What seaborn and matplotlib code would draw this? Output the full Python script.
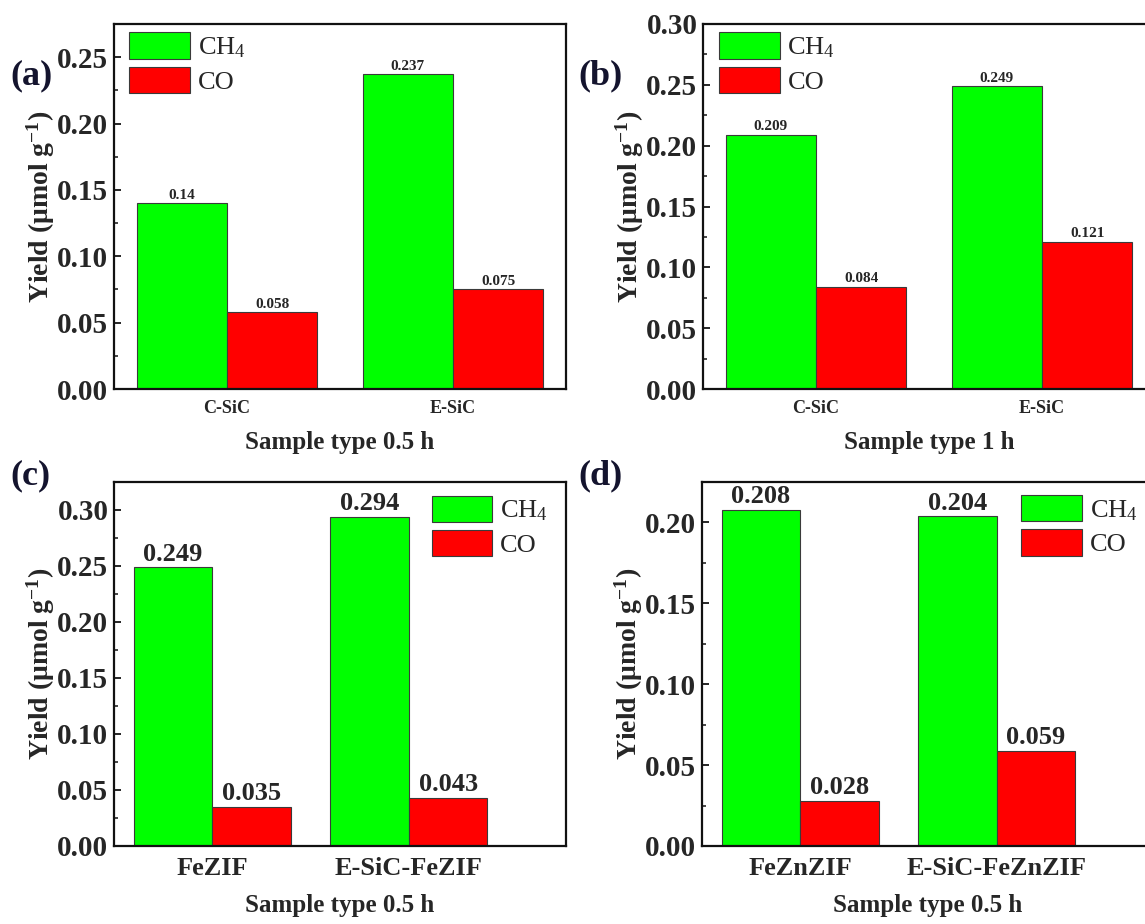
import numpy as np
import pandas as pd
import seaborn as sns
import matplotlib.pyplot as plt
from matplotlib.ticker import AutoMinorLocator, FormatStrFormatter

# --- data ---
gases = ['CH$_4$', 'CO']

groups_a = ['C-SiC', 'E-SiC']
ch4_a = [0.14, 0.237]
co_a = [0.058, 0.075]

groups_b = ['C-SiC', 'E-SiC']
ch4_b = [0.209, 0.249]
co_b = [0.084, 0.121]

groups_c = ['FeZIF', 'E-SiC-FeZIF']
ch4_c = [0.249, 0.294]
co_c = [0.035, 0.043]

groups_d = ['FeZnZIF', 'E-SiC-FeZnZIF']
ch4_d = [0.208, 0.204]
co_d = [0.028, 0.059]

xlabels = ['Sample type 0.5 h', 'Sample type 1 h', 'Sample type 0.5 h', 'Sample type 0.5 h']
panel_tags = ['(a)', '(b)', '(c)', '(d)']

sns.set_style('ticks')
plt.rcParams['font.family'] = ['Liberation Serif', 'DejaVu Serif']
plt.rcParams['mathtext.default'] = 'regular'

W, H = 1145, 924
fig = plt.figure(figsize=(W / 100, H / 100), dpi=100)


def px_rect(l, t, r, b):
    return [l / W, 1 - b / H, (r - l) / W, (b - t) / H]


def make_df(groups, ch4, co):
    rows = []
    for g, v in zip(groups, ch4):
        rows.append({'sample': g, 'gas': gases[0], 'yield': v})
    for g, v in zip(groups, co):
        rows.append({'sample': g, 'gas': gases[1], 'yield': v})
    return pd.DataFrame(rows)


panels = [
    dict(df=make_df(groups_a, ch4_a, co_a), rect=(114, 24, 566, 389), ylim=0.275, yticks=0.25,
         xlim=1.5, small=True, leg=(0.033, 0.977), tag_xy=(10, 76)),
    dict(df=make_df(groups_b, ch4_b, co_b), rect=(703, 24, 1155, 389), ylim=0.30, yticks=0.30,
         xlim=1.5, small=True, leg=(0.035, 0.977), tag_xy=(578, 76)),
    dict(df=make_df(groups_c, ch4_c, co_c), rect=(114, 482, 566, 846), ylim=0.325, yticks=0.30,
         xlim=1.8, small=False, leg=(0.703, 0.962), tag_xy=(10, 476)),
    dict(df=make_df(groups_d, ch4_d, co_d), rect=(702, 482, 1154, 846), ylim=0.225, yticks=0.20,
         xlim=1.8, small=False, leg=(0.706, 0.964), tag_xy=(578, 476)),
]

for i, p in enumerate(panels):
    ax = fig.add_axes(px_rect(*p['rect']))
    df = p['df']
    sns.barplot(data=df, x='sample', y='yield', hue='gas', palette=['#00FF00', '#FF0000'],
                saturation=1, errorbar=None, edgecolor='#3a3a3a', linewidth=0.8, ax=ax)

    val_size = 11 if p['small'] else 19
    for cont, gas in zip(ax.containers, gases):
        vals = df.loc[df['gas'] == gas, 'yield'].tolist()
        ax.bar_label(cont, labels=[str(v) for v in vals], padding=1,
                     fontsize=val_size, fontweight='bold')

    ax.set_xlim(-0.5, p['xlim'])
    ax.set_ylim(0, p['ylim'])
    ax.set_yticks(np.arange(0, p['yticks'] + 1e-9, 0.05))
    ax.yaxis.set_major_formatter(FormatStrFormatter('%.2f'))
    ax.yaxis.set_minor_locator(AutoMinorLocator(2))
    ax.tick_params(axis='y', which='major', direction='in', length=5, width=1.4,
                   labelsize=21, pad=4)
    ax.tick_params(axis='y', which='minor', direction='in', length=3, width=1.2)
    ax.tick_params(axis='x', length=0, labelsize=13 if p['small'] else 19, pad=8)
    for lab in ax.get_xticklabels() + ax.get_yticklabels():
        lab.set_fontweight('bold')
    for sp in ax.spines.values():
        sp.set_visible(True)
        sp.set_linewidth(1.6)
        sp.set_color('#111111')

    ax.set_ylabel('Yield (μmol g$^{-1}$)', fontsize=20, fontweight='bold', labelpad=0)
    ax.set_xlabel(xlabels[i], fontsize=18, fontweight='bold', labelpad=10)

    handles, labels = ax.get_legend_handles_labels()
    ax.legend(handles, labels, loc='upper left', bbox_to_anchor=p['leg'], frameon=False,
              fontsize=19, borderpad=0, handlelength=2.3, handleheight=1.15,
              handletextpad=0.3, labelspacing=0.25, borderaxespad=0)

    tx, ty = p['tag_xy']
    fig.text(tx / W, 1 - ty / H, panel_tags[i], fontsize=26, fontweight='bold',
             color='#14142e', va='center', ha='left')

fig.savefig('out.png', dpi=100)
plt.close('all')
